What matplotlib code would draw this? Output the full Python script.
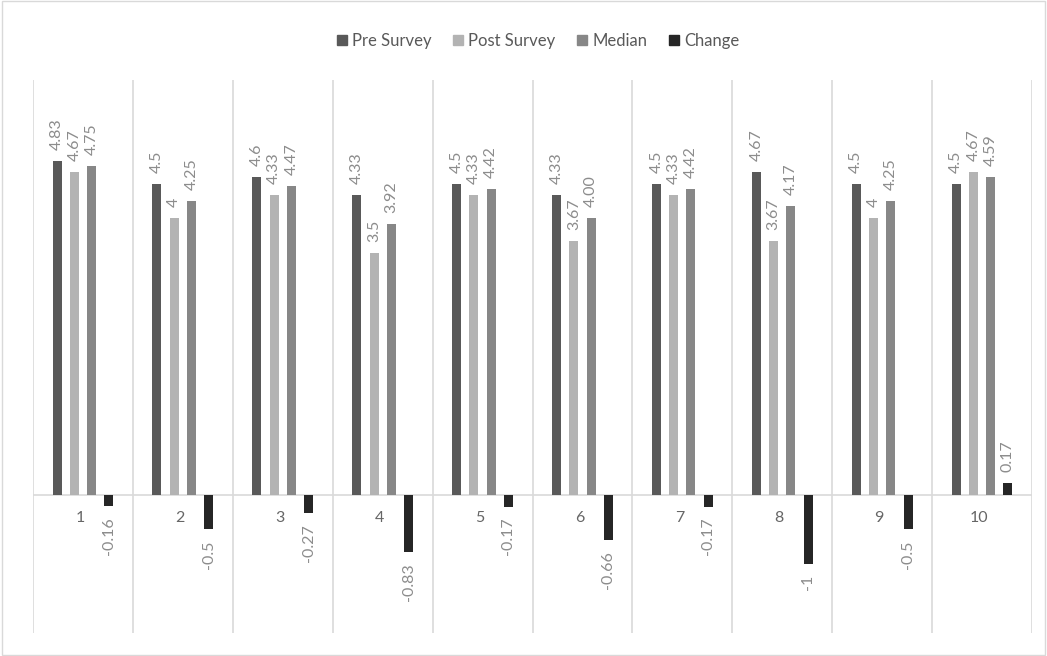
import matplotlib
matplotlib.use("Agg")
import matplotlib.pyplot as plt
from matplotlib.patches import Patch, Rectangle
import numpy as np

categories = ["1", "2", "3", "4", "5", "6", "7", "8", "9", "10"]
pre = [4.83, 4.5, 4.6, 4.33, 4.5, 4.33, 4.5, 4.67, 4.5, 4.5]
post = [4.67, 4, 4.33, 3.5, 4.33, 3.67, 4.33, 3.67, 4, 4.67]
median = [4.75, 4.25, 4.47, 3.92, 4.42, 4.00, 4.42, 4.17, 4.25, 4.59]
change = [-0.16, -0.5, -0.27, -0.83, -0.17, -0.66, -0.17, -1, -0.5, 0.17]
pre_lbl = ["4.83", "4.5", "4.6", "4.33", "4.5", "4.33", "4.5", "4.67", "4.5", "4.5"]
post_lbl = ["4.67", "4", "4.33", "3.5", "4.33", "3.67", "4.33", "3.67", "4", "4.67"]
median_lbl = ["4.75", "4.25", "4.47", "3.92", "4.42", "4.00", "4.42", "4.17", "4.25", "4.59"]
change_lbl = ["-0.16", "-0.5", "-0.27", "-0.83", "-0.17", "-0.66", "-0.17", "-1", "-0.5", "0.17"]
series_names = ["Pre Survey", "Post Survey", "Median", "Change"]

colors = ["#595959", "#b3b3b3", "#878787", "#262626"]
plt.rcParams['font.family'] = ['Lato', 'DejaVu Sans']

fig = plt.figure(figsize=(10.47, 6.56), dpi=100)
fig.patches.append(Rectangle((0.002, 0.002), 0.996, 0.996, transform=fig.transFigure,
                             fill=False, edgecolor="#d9d9d9", linewidth=1))
ax = fig.add_axes([33/1047, (656-633)/656, (1032-33)/1047, (633-80)/656])

x = np.arange(len(categories))
width = 0.09
step = 0.173
offsets = [-1.5*step, -0.5*step, 0.5*step, 1.5*step]
all_vals = [pre, post, median, change]
all_lbls = [pre_lbl, post_lbl, median_lbl, change_lbl]
for vals, lbls, off, c in zip(all_vals, all_lbls, offsets, colors):
    bars = ax.bar(x + off, vals, width=width, color=c, zorder=3)
    for b, v, l in zip(bars, vals, lbls):
        xc = b.get_x() + b.get_width()/2
        if v >= 0:
            ax.annotate(l, (xc, v), xytext=(0, 8), textcoords="offset points",
                        rotation=90, ha="center", va="bottom", fontsize=11.5,
                        color="#8c8c8c")
        else:
            ax.annotate(l, (xc, v), xytext=(0, -8), textcoords="offset points",
                        rotation=90, ha="center", va="top", fontsize=11.5,
                        color="#8c8c8c")

for i, cat in enumerate(categories):
    ax.annotate(cat, (i - 0.03, 0), xytext=(0, -17), textcoords="offset points",
                ha="center", va="center", fontsize=11.5, color="#666666")

ax.set_xlim(-0.5, 9.5)
ax.set_ylim(-2, 6)
for xb in np.arange(-0.5, 10, 1):
    ax.axvline(xb, color="#d9d9d9", linewidth=1.2, zorder=1)
ax.axhline(0, color="#d9d9d9", linewidth=1.2, zorder=2)
for s in ax.spines.values():
    s.set_visible(False)
ax.set_xticks([])
ax.set_yticks([])

handles = [Patch(facecolor=c, edgecolor=c) for c in colors]
fig.legend(handles, series_names, loc="center", bbox_to_anchor=(0.514, 0.938), ncol=4,
           frameon=False, handlelength=0.6, handleheight=0.6,
           handletextpad=0.3, columnspacing=1.3, labelcolor="#595959",
           prop={"size": 12})

fig.savefig("out.png", dpi=100)
